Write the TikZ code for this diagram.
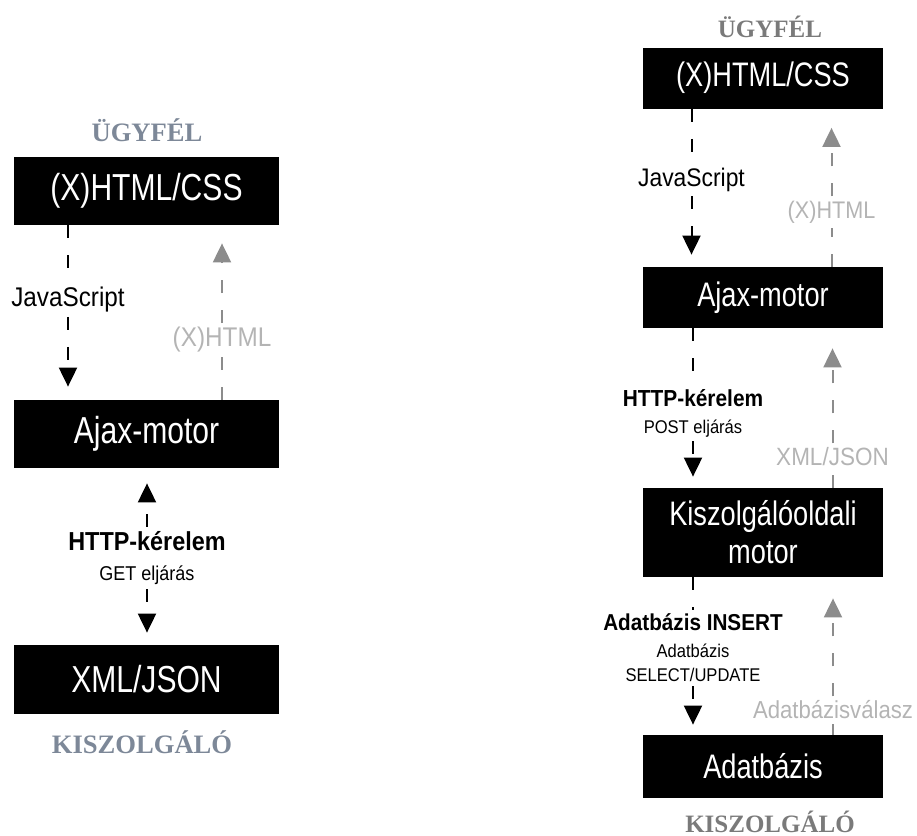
\documentclass[tikz,border=0pt]{standalone}
\usepackage{fontspec}
\setmainfont{Liberation Sans}
\newfontfamily\boxfont{Liberation Sans}[FakeStretch=0.8]
\newfontfamily\lblfont{Liberation Sans}[FakeStretch=0.9]
\newfontfamily\sidefont{Liberation Serif}
\usetikzlibrary{arrows.meta}

\definecolor{sideblue}{HTML}{7D8898}
\definecolor{sidegray}{HTML}{7A7A7A}
\definecolor{backgray}{HTML}{8C8C8C}
\definecolor{backtext}{HTML}{B4B4B4}

\tikzset{
  blk/.style={fill=black, text=white, inner sep=0pt, align=center},
  lbox/.style={blk, minimum width=132.5pt, minimum height=34pt,
    font=\boxfont\fontsize{18.8}{20}\selectfont},
  rbox/.style={blk, minimum width=120pt, minimum height=30.5pt,
    font=\boxfont\fontsize{17}{19}\selectfont},
  side/.style={font=\sidefont\bfseries\fontsize{#1}{15}\selectfont},
  lbl/.style={inner sep=2pt, align=center, font=\lblfont\fontsize{#1}{15}\selectfont},
  flow/.style={line width=1pt, dash pattern=on 6.5pt off 8.5pt},
  tip/.style={-{Triangle[length=9.5pt,width=9pt]}, shorten >=#1},
  back/.style={flow, backgray},
}

\begin{document}
\begin{tikzpicture}[x=0.5pt, y=-0.5pt]
		\useasboundingbox (0,0) rectangle (917,836);

		% left: client and server
		\node [side=13.3, sideblue] (lclient) at (147,130) {ÜGYFÉL};
		\node [lbox] (lcss) at (146.5,191) {(X)HTML/CSS};
		\node [lbox] (lajax) at (146.5,434) {Ajax-motor};
		\node [lbox, minimum height=34.5pt] (lxml) at (146.5,679.5) {XML/JSON};
		\node [side=13.3, sideblue] (lserver) at (142,742) {KISZOLGÁLÓ};

		% left labels
		\node [lbl=13.5] (ljs) at (68,300) {JavaScript};
		\node [lbl=13.5, backtext] (lret) at (222,340) {(X)HTML};
		\node [lbl=10] (lhttp) at (147,558) {{\fontsize{13}{15}\selectfont\bfseries HTTP-kérelem}\\GET eljárás};

		% left arrows
		\draw [flow] (lcss.south -| ljs) -- (ljs.north);
		\draw [flow, tip=6.5pt] (ljs.south) -- (lajax.north -| ljs);
		\draw [back] (lajax.north -| lret) -- (lret.south);
		\draw [back, tip=9pt] (lret.north) -- (lcss.south -| lret);
		\draw [flow, tip=7.5pt] (lhttp.north) -- (lajax.south -| lhttp);
		\draw [flow, tip=6pt] (lhttp.south) -- (lxml.north -| lhttp);

		% right: client, engines and database
		\node [side=12.5, sidegray] (rclient) at (770,27) {ÜGYFÉL};
		\node [rbox] (rcss) at (763,78) {(X)HTML/CSS};
		\node [rbox] (rajax) at (763,297.5) {Ajax-motor};
		\node [rbox, minimum height=44.5pt] (rengine) at (763,532.5) {Kiszolgálóoldali\\motor};
		\node [rbox, minimum height=31.5pt] (rdb) at (763,766.5) {Adatbázis};
		\node [side=12.5, sidegray] (rserver) at (770,822) {KISZOLGÁLÓ};

		% right labels
		\node [lbl=12.7] (rjs) at (691.5,180) {JavaScript};
		\node [lbl=12, backtext] (rret) at (831.5,212) {(X)HTML};
		\node [lbl=9.2, font=\lblfont\fontsize{9.2}{13.5}\selectfont] (rhttp) at (693,413) {{\fontsize{11.6}{14}\selectfont\bfseries HTTP-kérelem}\\POST eljárás};
		\node [lbl=12.5, backtext] (rxml) at (832.5,457) {XML/JSON};
		\node [lbl=9.2, font=\lblfont\fontsize{9.2}{12}\selectfont] (rsql) at (693,648) {{\fontsize{11.5}{14}\selectfont\bfseries Adatbázis INSERT}\\[1.5pt]Adatbázis\\SELECT/UPDATE};
		\node [lbl=12.3, backtext] (rdbret) at (833,710) {Adatbázisválasz};

		% right arrows
		\draw [flow] (rcss.south -| rjs) -- (rjs.north);
		\draw [flow, tip=6pt] (rjs.south) -- (rajax.north -| rjs);
		\draw [back] (rajax.north -| rret) -- (rret.south);
		\draw [back, tip=9.5pt] (rret.north) -- (rcss.south -| rret);
		\draw [flow] (rajax.south -| rhttp) -- (rhttp.north);
		\draw [flow, tip=5.5pt] (rhttp.south) -- (rengine.north -| rhttp);
		\draw [back] (rengine.north -| rxml) -- (rxml.south);
		\draw [back, tip=10pt] (rxml.north) -- (rajax.south -| rxml);
		\draw [flow] (rengine.south -| rsql) -- (rsql.north);
		\draw [flow, tip=5pt] (rsql.south) -- (rdb.north -| rsql);
		\draw [back] (rdb.north -| rdbret) -- (rdbret.south);
		\draw [back, tip=10.5pt] (rdbret.north) -- (rengine.south -| rdbret);
\end{tikzpicture}
\end{document}
